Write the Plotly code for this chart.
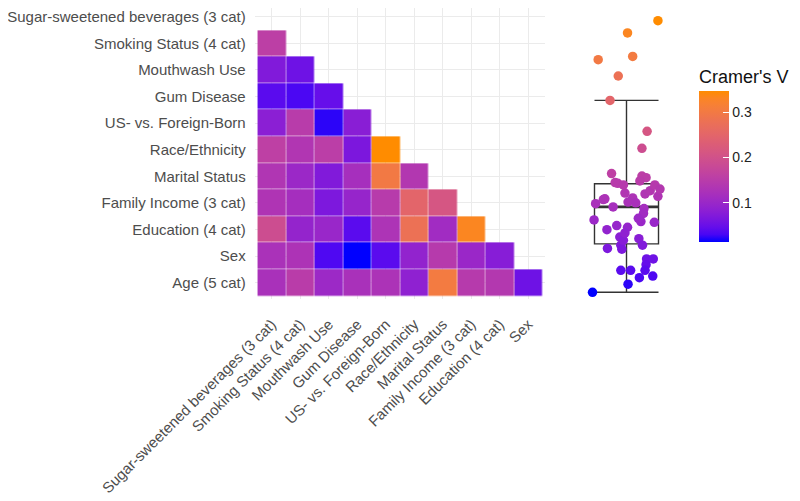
import numpy as np
import plotly.graph_objects as go

# variables (y axis top -> bottom, x axis left -> right)
y_vars = [
    "Sugar-sweetened beverages (3 cat)",
    "Smoking Status (4 cat)",
    "Mouthwash Use",
    "Gum Disease",
    "US- vs. Foreign-Born",
    "Race/Ethnicity",
    "Marital Status",
    "Family Income (3 cat)",
    "Education (4 cat)",
    "Sex",
    "Age (5 cat)",
]
x_vars = y_vars[:-1]

# Cramer's V, lower triangle, one list per row (from Smoking Status down)
v_smoking = [0.156]
v_mouthwash = [0.071, 0.054]
v_gum = [0.040, 0.031, 0.047]
v_born = [0.081, 0.148, 0.023, 0.079]
v_race = [0.159, 0.135, 0.154, 0.066, 0.347]
v_marital = [0.134, 0.102, 0.071, 0.118, 0.299, 0.138]
v_income = [0.131, 0.116, 0.067, 0.095, 0.147, 0.249, 0.211]
v_educ = [0.190, 0.093, 0.099, 0.040, 0.129, 0.279, 0.110, 0.332]
v_sex = [0.124, 0.128, 0.033, 0.013, 0.040, 0.090, 0.145, 0.100, 0.077]
v_age = [0.123, 0.150, 0.104, 0.122, 0.127, 0.086, 0.303, 0.145, 0.140, 0.054]

# horizontal jitter of each point in the box panel (same layout as above)
j_smoking = [0.30]
j_mouthwash = [-0.11, 0.39]
j_gum = [0.08, 0.25, 0.38]
j_born = [-0.13, -0.22, 0.03, 0.24]
j_race = [-0.29, -0.03, 0.38, -0.09, 0.61]
j_marital = [0.36, -0.63, 0.31, -0.26, -0.55, 0.46]
j_income = [0.61, 0.34, -0.37, -0.19, -0.17, -0.32, 0.40]
j_educ = [0.30, 0.02, 0.54, -0.11, 0.12, -0.16, 0.33, 0.02]
j_sex = [0.03, -0.42, 0.51, -0.66, 0.36, -0.38, -0.06, 0.28, -0.06]
j_age = [0.18, 0.26, 0.23, -0.60, -0.45, -0.03, 0.12, 0.55, 0.65, 0.52]

rows = [v_smoking, v_mouthwash, v_gum, v_born, v_race, v_marital,
        v_income, v_educ, v_sex, v_age]
jitter_rows = [j_smoking, j_mouthwash, j_gum, j_born, j_race, j_marital,
               j_income, j_educ, j_sex, j_age]

z = [[None] * len(x_vars)] + [r + [None] * (len(x_vars) - len(r)) for r in rows]
vals = [v for r in rows for v in r]
jit = [j for r in jitter_rows for j in r]
vmin, vmax = min(vals), max(vals)


# ggplot-like blue -> darkorange gradient, interpolated in CIELAB
def _lab(hexc):
    rgb = np.array([int(hexc[i:i + 2], 16) / 255 for i in (1, 3, 5)])
    lin = np.where(rgb <= 0.04045, rgb / 12.92, ((rgb + 0.055) / 1.055) ** 2.4)
    m = np.array([[0.4124, 0.3576, 0.1805],
                  [0.2126, 0.7152, 0.0722],
                  [0.0193, 0.1192, 0.9505]])
    xyz = m @ lin / np.array([0.95047, 1.0, 1.08883])
    f = np.where(xyz > (6 / 29) ** 3, np.cbrt(xyz), xyz / (3 * (6 / 29) ** 2) + 4 / 29)
    return np.array([116 * f[1] - 16, 500 * (f[0] - f[1]), 200 * (f[1] - f[2])])


def _hex(lab):
    fy = (lab[0] + 16) / 116
    f = np.array([fy + lab[1] / 500, fy, fy - lab[2] / 200])
    xyz = np.where(f > 6 / 29, f ** 3, 3 * (6 / 29) ** 2 * (f - 4 / 29))
    xyz = xyz * np.array([0.95047, 1.0, 1.08883])
    mi = np.array([[3.2406, -1.5372, -0.4986],
                   [-0.9689, 1.8758, 0.0415],
                   [0.0557, -0.2040, 1.0570]])
    lin = np.clip(mi @ xyz, 0, 1)
    rgb = np.where(lin <= 0.0031308, 12.92 * lin, 1.055 * lin ** (1 / 2.4) - 0.055)
    r, g, b = (np.clip(rgb, 0, 1) * 255).round().astype(int)
    return f"rgb({r},{g},{b})"


lo, hi = _lab("#0000FF"), _lab("#FF8C00")
colorscale = [[t, _hex(lo + (hi - lo) * t)] for t in np.linspace(0, 1, 21)]

W, H = 800, 501
OFF = 8  # page body margin


def fx(p):
    return (p - OFF) / W


def fy(p):
    return 1 - (p - OFF) / H


# heatmap rows: 26.6 px each, Age row centred at 282.7 px
row_px = 26.6
y_top = -0.6 + (OFF - 0.7) / row_px

# box panel: value <-> page pixel (min at 292.3 px, max at 20.7 px)
def val_at(p):
    return vmin + (292.3 - p) * (vmax - vmin) / (292.3 - 20.7)


axis_font = dict(family="Liberation Sans, Arial, sans-serif", size=15, color="#4D4D4D")

fig = go.Figure()

fig.add_trace(go.Heatmap(
    z=z, x=x_vars, y=y_vars, coloraxis="coloraxis",
    xgap=0.5, ygap=0.5, hoverongaps=False,
))

fig.add_trace(go.Box(
    y=vals, x0=0, xaxis="x2", yaxis="y2", width=1.243, whiskerwidth=1,
    boxpoints="outliers", marker=dict(opacity=0),
    line=dict(color="#333333", width=1.4), fillcolor="rgba(0,0,0,0)",
    showlegend=False,
))

med = float(np.median(vals))
fig.add_trace(go.Scatter(
    x=[-0.62, 0.62], y=[med, med], xaxis="x2", yaxis="y2", mode="lines",
    line=dict(color="#333333", width=2.6), showlegend=False, hoverinfo="skip",
))

fig.add_trace(go.Scatter(
    x=jit, y=vals, xaxis="x2", yaxis="y2", mode="markers",
    marker=dict(size=9.5, color=vals, coloraxis="coloraxis"),
    showlegend=False,
))

fig.update_layout(
    width=W, height=H,
    margin=dict(l=0, r=0, t=0, b=0, autoexpand=False),
    paper_bgcolor="white", plot_bgcolor="white",
    font=dict(family="Liberation Sans, Arial, sans-serif"),
    xaxis=dict(
        domain=[fx(254.7), fx(545.4)], type="category",
        categoryorder="array", categoryarray=x_vars, range=[-0.6, 9.6],
        tickangle=-45, tickfont=axis_font, showgrid=True, gridcolor="#EBEBEB",
        gridwidth=1, zeroline=False, showline=False, ticks="",
        ticklabelstandoff=13, automargin=False,
    ),
    yaxis=dict(
        domain=[fy(298.7), 1], type="category",
        categoryorder="array", categoryarray=y_vars, range=[10.6, y_top],
        tickfont=axis_font, showgrid=True, gridcolor="#EBEBEB", gridwidth=1,
        zeroline=False, showline=False, ticks="", ticklabelstandoff=8,
        automargin=False,
    ),
    xaxis2=dict(domain=[fx(575), fx(678)], range=[-1, 1], visible=False),
    yaxis2=dict(domain=[fy(305.9), 1],
                range=[val_at(305.9), val_at(OFF)], visible=False),
    coloraxis=dict(
        colorscale=colorscale, cmin=vmin, cmax=vmax,
        colorbar=dict(
            title=dict(text="Cramer's V", side="top",
                       font=dict(size=18, color="#111111")),
            x=fx(699), xanchor="left", y=fy(66), yanchor="top",
            len=176, lenmode="pixels", thickness=30, outlinewidth=0,
            tickvals=[0.1, 0.2, 0.3], ticks="inside", ticklen=6,
            tickcolor="white", tickfont=dict(size=14, color="#222222"),
            xpad=0, ypad=0,
        ),
    ),
)

fig.write_html("out.html")
